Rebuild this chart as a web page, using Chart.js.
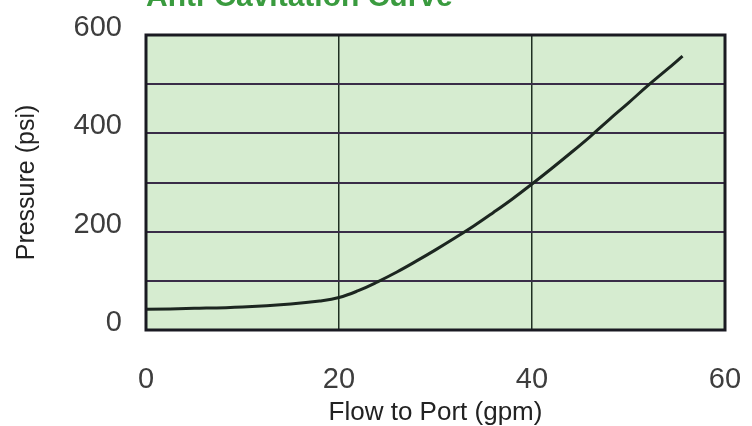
<!DOCTYPE html>
<html>
<head>
<meta charset="utf-8">
<script src="https://cdn.jsdelivr.net/npm/chart.js@4.4.1/dist/chart.umd.min.js"></script>
<style>
  html, body { margin: 0; padding: 0; background: #ffffff; overflow: hidden; }
  #wrap { position: absolute; left: 0; top: -24px; width: 752px; height: 450px; }
</style>
</head>
<body>
<div id="wrap"><canvas id="c" width="752" height="450"></canvas></div>
<script>
const chartTitle = 'Anti-Cavitation Curve';
const xAxisTitle = 'Flow to Port (gpm)';
const yAxisTitle = 'Pressure (psi)';
const flowGpm = [0, 5, 10, 15, 18, 20, 22, 24, 26, 28, 30, 32, 34, 36, 38, 40, 42, 44, 46, 48, 50, 52, 54, 55.6];
const pressurePsi = [42, 44, 47, 53, 59, 66, 80, 98, 118, 140, 163, 187, 212, 239, 267, 297, 328, 360, 393, 428, 462, 497, 530, 557];
const xTickValues = [0, 20, 40, 60];
const yTickLabelValues = [0, 200, 400, 600];

const points = flowGpm.map((f, i) => ({ x: f, y: pressurePsi[i] }));

const plotBg = {
  id: 'plotBg',
  beforeDraw(chart) {
    const a = chart.chartArea, ctx = chart.ctx;
    ctx.save();
    ctx.fillStyle = '#d6ecd0';
    ctx.fillRect(a.left, a.top, a.right - a.left, a.bottom - a.top);
    ctx.restore();
  }
};
const frame = {
  id: 'frame',
  afterDatasetsDraw(chart) {
    const a = chart.chartArea, ctx = chart.ctx;
    ctx.save();
    ctx.strokeStyle = '#1a1a22';
    ctx.lineWidth = 3;
    ctx.strokeRect(a.left, a.top, a.right - a.left, a.bottom - a.top);
    ctx.restore();
  }
};

const FONT = 'Liberation Sans, Arial, sans-serif';

new Chart(document.getElementById('c'), {
  type: 'line',
  data: {
    datasets: [{
      data: points,
      borderColor: '#1c2620',
      borderWidth: 3,
      pointRadius: 0,
      tension: 0.4,
      fill: false
    }]
  },
  options: {
    responsive: false,
    animation: false,
    layout: { padding: { left: 0, right: 27, top: 0, bottom: 0 } },
    plugins: {
      legend: { display: false },
      tooltip: { enabled: false },
      title: {
        display: true,
        fullSize: false,
        align: 'start',
        text: chartTitle,
        color: '#3a9b3f',
        font: { family: FONT, size: 30, weight: 'bold', lineHeight: 1.2 },
        padding: { top: 3.5, bottom: 19.5 }
      }
    },
    scales: {
      x: {
        type: 'linear',
        min: 0, max: 60,
        afterFit(scale) { scale.height = 96; scale.paddingLeft = 0; scale.paddingRight = 0; },
        afterBuildTicks(scale) { scale.ticks = xTickValues.map(v => ({ value: v })); },
        ticks: {
          color: '#3d3d3d',
          padding: 33,
          font: { family: FONT, size: 29 }
        },
        grid: { color: '#1f2f22', lineWidth: 1.5, drawTicks: false },
        border: { display: false },
        title: {
          display: true,
          text: xAxisTitle,
          color: '#222222',
          padding: { top: 0, bottom: 0 },
          font: { family: FONT, size: 26, lineHeight: 1 }
        }
      },
      y: {
        type: 'linear',
        min: 0, max: 600,
        afterFit(scale) { scale.width = 146; },
        ticks: {
          stepSize: 100,
          color: '#3d3d3d',
          padding: 24,
          labelOffset: -7,
          font: { family: FONT, size: 29 },
          callback: (v) => yTickLabelValues.includes(v) ? String(v) : ''
        },
        grid: { color: '#3a2d48', lineWidth: 2, drawTicks: false },
        border: { display: false },
        title: {
          display: true,
          text: yAxisTitle,
          color: '#222222',
          padding: { top: 12, bottom: 0 },
          font: { family: FONT, size: 25, lineHeight: 1.2 }
        }
      }
    }
  },
  plugins: [plotBg, frame]
});
</script>
</body>
</html>
